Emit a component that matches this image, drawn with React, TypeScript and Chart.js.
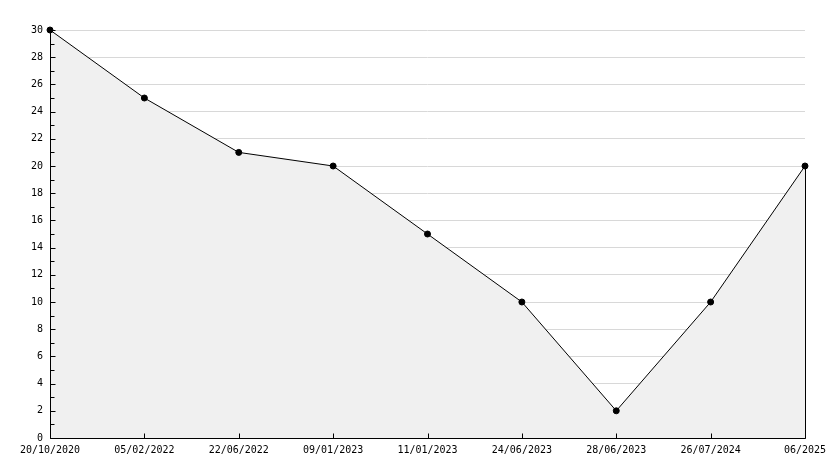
import React, { useEffect, useRef } from "react";
import { Chart, registerables } from "chart.js";

Chart.register(...registerables);

const categories = [
  "20/10/2020",
  "05/02/2022",
  "22/06/2022",
  "09/01/2023",
  "11/01/2023",
  "24/06/2023",
  "28/06/2023",
  "26/07/2024",
  "06/2025",
];
const values = [30, 25, 21, 20, 15, 10, 2, 10, 20];
const yMin = 0;
const yMax = 30;
const yStep = 2;
const yMinorStep = 1;

const FONT = { family: "'DejaVu Sans Mono', monospace", size: 10 };

const axesPlugin = {
  id: "innerAxes",
  afterDatasetsDraw(chart: any) {
    const { ctx, chartArea, scales } = chart;
    const x = scales.x;
    const y = scales.y;
    const a = (v: number) => Math.round(v) + 0.5;
    ctx.save();
    ctx.strokeStyle = "#000";
    ctx.lineWidth = 1;
    ctx.beginPath();
    const lx = a(chartArea.left);
    const by = a(chartArea.bottom);
    ctx.moveTo(lx, a(chartArea.top));
    ctx.lineTo(lx, by);
    ctx.lineTo(a(chartArea.right), by);
    for (let v = yMin; v <= yMax; v += yMinorStep) {
      const py = a(y.getPixelForValue(v));
      const len = v % yStep === 0 ? 5 : 4;
      ctx.moveTo(lx, py);
      ctx.lineTo(lx + len, py);
    }
    for (let i = 0; i < categories.length; i++) {
      const px = a(x.getPixelForValue(i));
      ctx.moveTo(px, by);
      ctx.lineTo(px, by - 5);
    }
    const last = values.length - 1;
    const rx = a(x.getPixelForValue(last));
    ctx.moveTo(rx, a(y.getPixelForValue(values[last])));
    ctx.lineTo(rx, by);
    ctx.stroke();
    ctx.restore();
  },
};

export default function App() {
  const ref = useRef<HTMLCanvasElement | null>(null);
  useEffect(() => {
    if (!ref.current) return;
    const chart = new Chart(ref.current, {
      type: "line",
      data: {
        labels: categories,
        datasets: [
          {
            data: values,
            borderColor: "#000",
            borderWidth: 1,
            backgroundColor: "#f0f0f0",
            fill: "start",
            tension: 0,
            pointRadius: 3,
            pointHoverRadius: 3,
            pointBackgroundColor: "#000",
            pointBorderColor: "#000",
            pointBorderWidth: 1,
            clip: false,
          },
        ],
      },
      options: {
        animation: false,
        responsive: false,
        events: [],
        layout: { padding: { top: 30, right: 29, left: 0, bottom: 0 } },
        plugins: { legend: { display: false }, tooltip: { enabled: false } },
        scales: {
          x: {
            type: "category",
            offset: false,
            grid: { display: false, drawTicks: false },
            border: { display: false },
            ticks: {
              autoSkip: false,
              maxRotation: 0,
              minRotation: 0,
              padding: 6,
              color: "#000",
              font: FONT,
            },
            afterFit: (s: any) => {
              s.height = 30;
            },
          },
          y: {
            min: yMin,
            max: yMax,
            grid: { color: "#d8d8d8", lineWidth: 1, drawTicks: false },
            border: { display: false },
            ticks: {
              stepSize: yStep,
              padding: 7,
              color: "#000",
              font: FONT,
            },
            afterFit: (s: any) => {
              s.width = 50;
            },
          },
        },
      },
      plugins: [axesPlugin],
    });
    return () => chart.destroy();
  }, []);
  return (
    <div style={{ position: "absolute", left: 0, top: 0, width: 834, height: 468, background: "#fff" }}>
      <canvas ref={ref} width={834} height={468} style={{ display: "block" }} />
    </div>
  );
}
